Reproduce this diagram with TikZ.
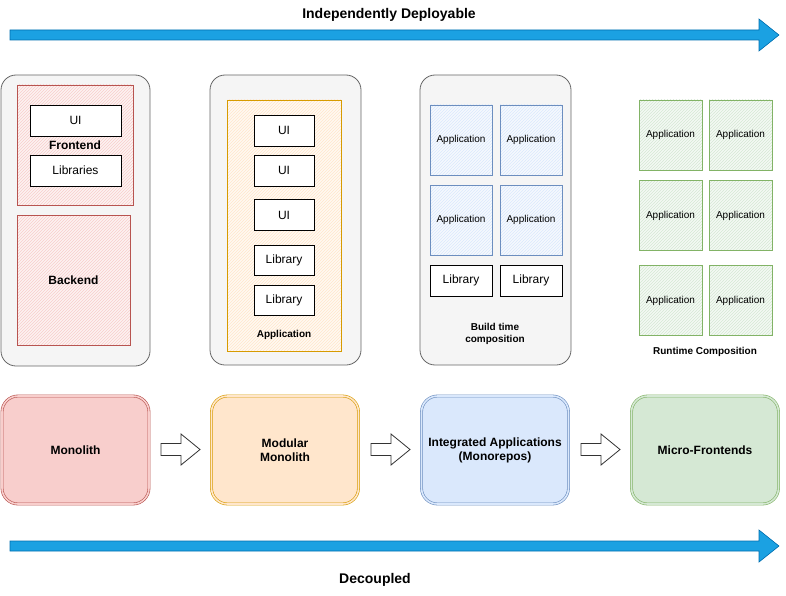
\documentclass[tikz,border=0pt]{standalone}
\usepackage{fontspec}
\setmainfont{Liberation Sans}
\usetikzlibrary{patterns}

\definecolor{panelfill}{HTML}{F5F5F5}
\definecolor{paneldraw}{HTML}{666666}
\definecolor{redfill}{HTML}{F8CECC}
\definecolor{reddraw}{HTML}{B85450}
\definecolor{orangefill}{HTML}{FFE6CC}
\definecolor{orangedraw}{HTML}{D79B00}
\definecolor{bluefill}{HTML}{DAE8FC}
\definecolor{bluedraw}{HTML}{6C8EBF}
\definecolor{greenfill}{HTML}{D5E8D4}
\definecolor{greendraw}{HTML}{82B366}
\definecolor{arrowfill}{HTML}{1BA1E2}
\definecolor{arrowdraw}{HTML}{006EAF}

\tikzset{
  every node/.style={inner sep=0pt, outer sep=0pt, align=center},
  panel/.style={draw=paneldraw, fill=panelfill, rounded corners=15pt, line width=0.8pt},
  hatched/.style={draw=#1draw, line width=0.9pt, preaction={fill=#1fill!25}, preaction={pattern=north east lines, pattern color=#1fill}},
  plainbox/.style={draw=black, fill=white, line width=0.9pt, font=\fontsize{12}{14}\selectfont},
  appbox/.style={font=\fontsize{10}{12}\selectfont},
  stagebox/.style={draw=#1draw, fill=#1fill, double=#1fill, double distance=1.6pt, line width=0.6pt,
    rounded corners=16pt, minimum width=147pt, minimum height=108pt, font=\bfseries\fontsize{12}{14}\selectfont},
  caption/.style={font=\bfseries\fontsize{10}{12}\selectfont},
  banner/.style={font=\bfseries\fontsize{14}{16}\selectfont}
}

\begin{document}
\begin{tikzpicture}[x=1pt, y=-1pt]
  \useasboundingbox (0,0) rectangle (786,596);

  %% top and bottom arrows
  \node[banner] (deploy) at (389,15) {Independently Deployable};
  \draw[arrowdraw, fill=arrowfill, line width=0.6pt]
    (10,30) -- (759,30) -- (759,19) -- (779,35) -- (759,51) -- (759,40) -- (10,40) -- cycle;
  \draw[arrowdraw, fill=arrowfill, line width=0.6pt]
    (10,541) -- (759,541) -- (759,530) -- (779,546) -- (759,562) -- (759,551) -- (10,551) -- cycle;
  \node[banner] (decoupled) at (375,580) {Decoupled};

  %% monolith panel
  \node[panel, minimum width=149pt, minimum height=291pt] (panelA) at (75.5,220.5) {};
  \node[hatched=red, minimum width=116pt, minimum height=120pt, font=\bfseries\fontsize{12}{14}\selectfont] (frontend) at (75,145) {Frontend};
  \node[plainbox, minimum width=91pt, minimum height=31pt] (uiA) at (75.5,120.5) {UI};
  \node[plainbox, minimum width=91pt, minimum height=31pt] (libsA) at (75.5,170.5) {Libraries};
  \node[hatched=red, minimum width=113pt, minimum height=130pt, font=\bfseries\fontsize{12}{14}\selectfont] (backend) at (73.5,280) {Backend};

  %% modular monolith panel
  \node[panel, minimum width=151pt, minimum height=290pt] (panelB) at (285.5,220) {};
  \node[hatched=orange, minimum width=114pt, minimum height=251pt] (appB) at (284,225.5) {};
  \node[caption] (appBlabel) at (284,335) {Application};
  \node[plainbox, minimum width=60pt, minimum height=31pt] (uiB1) at (284,130.5) {UI};
  \node[plainbox, minimum width=60pt, minimum height=31pt] (uiB2) at (284,170.5) {UI};
  \node[plainbox, minimum width=60pt, minimum height=31pt] (uiB3) at (284,215) {UI};
  \node[plainbox, minimum width=60pt, minimum height=30pt] (libB1) at (284,260) {Library};
  \node[plainbox, minimum width=60pt, minimum height=30pt] (libB2) at (284,300) {Library};

  %% monorepo panel
  \node[panel, minimum width=151pt, minimum height=290pt] (panelC) at (495.5,220) {};
  \foreach \col/\x in {1/461,2/531}{
    \foreach \row/\y in {1/140,2/220}{
      \node[hatched=blue, appbox, minimum width=62pt, minimum height=70pt] (appC\row\col) at (\x,\y) {Application};
    }
    \node[plainbox, minimum width=62pt, minimum height=31pt] (libC\col) at (\x,280.5) {Library};
  }
  \node[caption] (buildlabel) at (495,334) {Build time\\composition};

  %% micro-frontends grid
  \foreach \col/\x in {1/670.5,2/740.5}{
    \foreach \row/\y in {1/135,2/215.5,3/300.5}{
      \node[hatched=green, appbox, minimum width=63pt, minimum height=70pt] (appD\row\col) at (\x,\y) {Application};
    }
  }
  \node[caption] (runtimelabel) at (705,352) {Runtime Composition};

  %% stages
  \node[stagebox=red] (monolith) at (75.5,450) {Monolith};
  \node[stagebox=orange] (modular) at (285,450) {Modular\\Monolith};
  \node[stagebox=blue] (monorepo) at (495,450) {Integrated Applications\\(Monorepos)};
  \node[stagebox=green] (micro) at (705,450) {Micro-Frontends};

  %% hollow arrows between stages
  \foreach \x in {161,371,581}{
    \draw[black!80, fill=white, line width=0.8pt]
      (\x,443.5) -- (\x+20,443.5) -- (\x+20,434) -- (\x+39,449.5) -- (\x+20,465) -- (\x+20,455.5) -- (\x,455.5) -- cycle;
  }
\end{tikzpicture}
\end{document}
